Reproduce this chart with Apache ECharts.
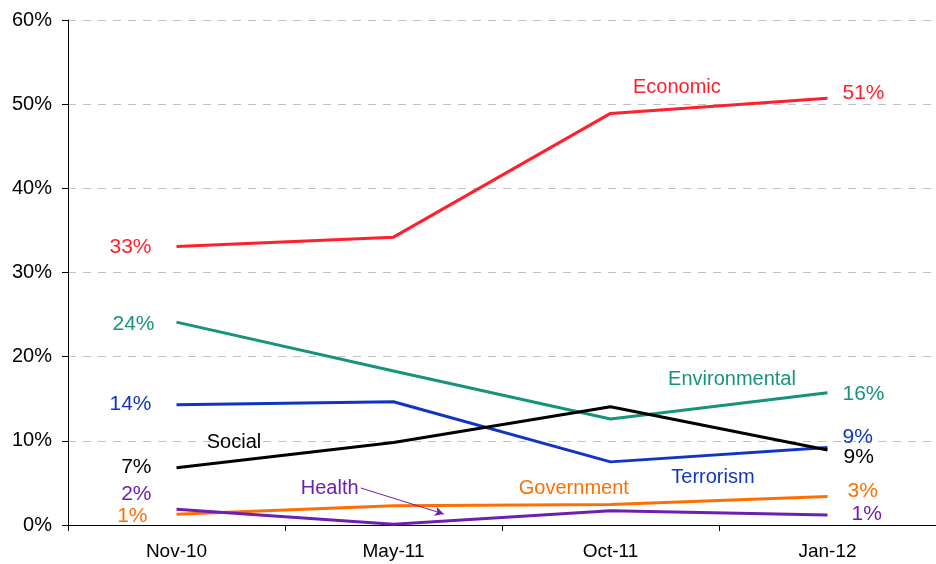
<!DOCTYPE html>
<html>
<head>
<meta charset="utf-8">
<script src="https://cdn.jsdelivr.net/npm/echarts@6/dist/echarts.min.js"></script>
<style>html,body{margin:0;padding:0;background:#fff;}#c{width:936px;height:564px;}</style>
</head>
<body>
<div id="c"></div>
<script>
var categories = ['Nov-10', 'May-11', 'Oct-11', 'Jan-12'];
var economic = [33.1, 34.2, 48.9, 50.7];
var environmental = [24.1, 18.3, 12.6, 15.7];
var terrorism = [14.3, 14.65, 7.5, 9.2];
var social = [6.8, 9.8, 14.05, 8.9];
var government = [1.27, 2.3, 2.45, 3.4];
var health = [1.87, 0.1, 1.7, 1.2];
var yTicks = [0, 10, 20, 30, 40, 50, 60];

var FONT = '"Liberation Sans", Arial, sans-serif';

// label placement for first/last values: [distance, dy]
var seriesDefs = [
  {name: 'Economic', data: economic, color: '#FF1F2D', first: [25, 1], last: [15, -5]},
  {name: 'Environmental', data: environmental, color: '#15937F', first: [22, 2], last: [15, 1]},
  {name: 'Terrorism', data: terrorism, color: '#1234C4', first: [25, 0], last: [15, -10]},
  {name: 'Social', data: social, color: '#000000', first: [25, -1], last: [16, 7]},
  {name: 'Government', data: government, color: '#FF6F00', first: [29, 2], last: [20, -5]},
  {name: 'Health', data: health, color: '#6E1FB0', first: [25, -15], last: [24, -1]}
];

// annotation text positions in data space (category index, value)
var annotations = [
  {text: 'Economic', at: [2.306, 51.95], color: '#FF1F2D'},
  {text: 'Environmental', at: [2.56, 17.34], color: '#15937F'},
  {text: 'Terrorism', at: [2.472, 5.7], color: '#1234C4'},
  {text: 'Social', at: [0.265, 9.78], color: '#000000'},
  {text: 'Health', at: [0.706, 4.28], color: '#6E1FB0'},
  {text: 'Government', at: [1.831, 4.28], color: '#FF6F00'}
];
var healthArrow = [[0.849, 4.4], [1.232, 1.31]];

var series = seriesDefs.map(function (s) {
  var n = s.data.length;
  return {
    name: s.name,
    type: 'line',
    data: s.data.map(function (v, i) {
      var item = {value: v};
      if (i === 0 || i === n - 1) {
        var cfg = i === 0 ? s.first : s.last;
        item.label = {
          show: true,
          position: i === 0 ? 'left' : 'right',
          distance: cfg[0],
          formatter: function (p) { return Math.round(p.value) + '%'; },
          color: s.color,
          fontSize: 21,
          fontFamily: FONT
        };
      }
      return item;
    }),
    symbol: 'circle',
    symbolSize: 0,
    showSymbol: true,
    showAllSymbol: true,
    lineStyle: {color: s.color, width: 3},
    itemStyle: {color: s.color, opacity: 1},
    labelLayout: function (p) {
      var cfg = p.dataIndex === 0 ? s.first : s.last;
      return {dy: cfg[1], hideOverlap: false, moveOverlap: null};
    },
    z: 3,
    silent: true,
    animation: false
  };
});

series.push({
  name: 'annotations',
  type: 'scatter',
  xAxisIndex: 1,
  symbolSize: 0,
  silent: true,
  animation: false,
  itemStyle: {opacity: 1},
  data: annotations.map(function (a) {
    return {
      value: a.at,
      label: {
        show: true,
        position: 'inside',
        formatter: a.text,
        color: a.color,
        fontSize: 20,
        fontFamily: FONT
      }
    };
  }),
  markLine: {
    silent: true,
    animation: false,
    symbol: ['none', 'arrow'],
    symbolSize: [7, 9],
    label: {show: false},
    lineStyle: {color: '#6E1FB0', width: 1, type: 'solid'},
    data: [[{coord: healthArrow[0]}, {coord: healthArrow[1]}]]
  }
});

var chart = echarts.init(document.getElementById('c'), null, {renderer: 'canvas'});
chart.setOption({
  animation: false,
  backgroundColor: '#ffffff',
  grid: {left: 68, right: 0, top: 20, bottom: 39, containLabel: false},
  xAxis: [{
    type: 'category',
    data: categories,
    boundaryGap: true,
    axisLine: {onZero: false, lineStyle: {color: '#000', width: 1}},
    axisTick: {show: true, length: 6, lineStyle: {color: '#000'}, alignWithLabel: false},
    axisLabel: {color: '#000', fontSize: 19, fontFamily: FONT, margin: 17},
    splitLine: {show: false}
  }, {
    type: 'value',
    min: -0.5,
    max: 3.5,
    show: false
  }],
  yAxis: {
    type: 'value',
    min: yTicks[0],
    max: yTicks[yTicks.length - 1],
    interval: 10,
    axisLine: {show: true, onZero: false, lineStyle: {color: '#000', width: 1}},
    axisTick: {show: true, length: 6, lineStyle: {color: '#000'}},
    axisLabel: {color: '#000', fontSize: 20, fontFamily: FONT, margin: 16, formatter: '{value}%'},
    splitLine: {show: true, lineStyle: {color: '#c0c0c0', width: 1, type: [8, 7]}}
  },
  series: series
});
</script>
</body>
</html>
